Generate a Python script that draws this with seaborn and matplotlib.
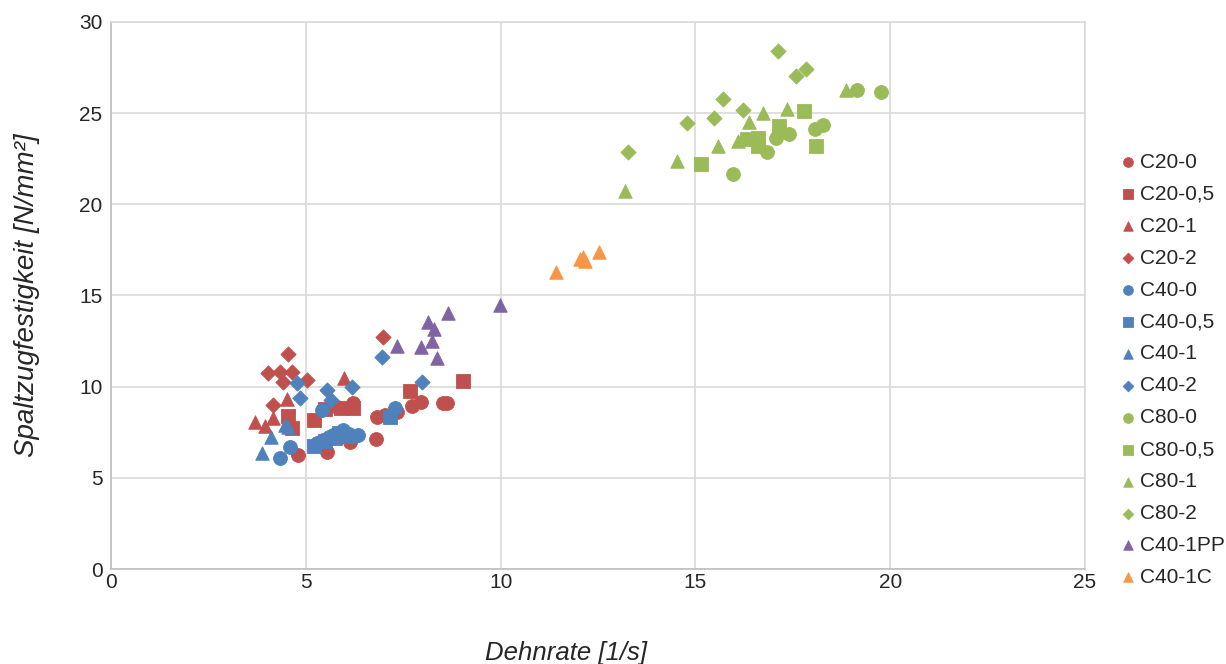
import numpy as np
import pandas as pd

import matplotlib
matplotlib.use("Agg")
import matplotlib.pyplot as plt
import seaborn as sns

# series: (strain rate [1/s], splitting tensile strength [N/mm²])
C20_0_x = [4.81, 5.54, 6.13, 6.80, 5.79, 6.22, 6.82, 7.03, 7.33, 7.72, 7.96, 8.53, 8.62]
C20_0_y = [6.25, 6.44, 6.98, 7.11, 8.90, 9.10, 8.32, 8.45, 8.63, 8.94, 9.18, 9.09, 9.10]
C20_05_x = [4.55, 4.64, 5.22, 5.49, 5.90, 6.22, 7.67, 9.04]
C20_05_y = [8.40, 7.72, 8.17, 8.80, 8.85, 8.85, 9.78, 10.33]
C20_1_x = [3.70, 3.95, 4.17, 4.51, 5.98]
C20_1_y = [8.08, 7.85, 8.30, 9.30, 10.45]
C20_2_x = [4.55, 4.04, 4.34, 4.64, 4.41, 5.02, 4.17, 6.97]
C20_2_y = [11.77, 10.73, 10.80, 10.79, 10.25, 10.38, 9.00, 12.74]
C40_0_x = [4.34, 4.59, 5.41, 5.30, 5.45, 5.70, 5.95, 6.10, 6.35, 5.60, 6.20, 7.29]
C40_0_y = [6.07, 6.71, 8.72, 6.90, 7.10, 7.35, 7.60, 7.40, 7.35, 7.25, 7.30, 8.81]
C40_05_x = [5.20, 5.50, 5.75, 5.85, 6.05, 7.16]
C40_05_y = [6.75, 7.00, 7.20, 7.45, 7.30, 8.36]
C40_1_x = [3.87, 4.10, 4.47, 4.55]
C40_1_y = [6.35, 7.26, 7.90, 7.80]
C40_2_x = [4.78, 4.85, 5.54, 5.66, 6.19, 6.95, 7.99]
C40_2_y = [10.19, 9.38, 9.82, 9.27, 10.00, 11.65, 10.24]
C80_0_x = [15.97, 16.83, 17.06, 17.41, 18.07, 18.27, 19.16, 19.76]
C80_0_y = [21.65, 22.89, 23.62, 23.84, 24.12, 24.36, 26.24, 26.15]
C80_05_x = [15.14, 16.32, 16.61, 16.61, 17.15, 17.80, 18.10]
C80_05_y = [22.20, 23.57, 23.62, 23.17, 24.27, 25.14, 23.17]
C80_1_x = [13.19, 14.54, 15.59, 16.10, 16.38, 16.73, 17.34, 18.87]
C80_1_y = [20.73, 22.40, 23.17, 23.48, 24.49, 25.00, 25.22, 26.24]
C80_2_x = [13.26, 14.78, 15.49, 15.70, 16.23, 17.11, 17.58, 17.84]
C80_2_y = [22.89, 24.45, 24.71, 25.76, 25.18, 28.41, 27.06, 27.43]
C40_1PP_x = [7.33, 7.95, 8.15, 8.29, 8.23, 8.38, 8.66, 9.98]
C40_1PP_y = [12.23, 12.20, 13.57, 13.15, 12.51, 11.59, 14.06, 14.48]
C40_1C_x = [11.42, 12.04, 12.12, 12.17, 12.53]
C40_1C_y = [16.31, 16.99, 17.13, 16.91, 17.41]

series = [
    ("C20-0", C20_0_x, C20_0_y),
    ("C20-0,5", C20_05_x, C20_05_y),
    ("C20-1", C20_1_x, C20_1_y),
    ("C20-2", C20_2_x, C20_2_y),
    ("C40-0", C40_0_x, C40_0_y),
    ("C40-0,5", C40_05_x, C40_05_y),
    ("C40-1", C40_1_x, C40_1_y),
    ("C40-2", C40_2_x, C40_2_y),
    ("C80-0", C80_0_x, C80_0_y),
    ("C80-0,5", C80_05_x, C80_05_y),
    ("C80-1", C80_1_x, C80_1_y),
    ("C80-2", C80_2_x, C80_2_y),
    ("C40-1PP", C40_1PP_x, C40_1PP_y),
    ("C40-1C", C40_1C_x, C40_1C_y),
]

RED, BLUE, GREEN = "#C0504D", "#4F81BD", "#9BBB59"
PURPLE, ORANGE = "#8064A2", "#F79646"
colors = [RED] * 4 + [BLUE] * 4 + [GREEN] * 4 + [PURPLE, ORANGE]
shapes = ["o", "s", "^", "D"] * 3 + ["^", "^"]
names = [s[0] for s in series]

rows = []
for name, xs, ys in series:
    for x, y in zip(xs, ys):
        rows.append({"Serie": name, "x": x, "y": y})
df = pd.DataFrame(rows)

sns.set_style("white")
plt.rcParams['font.family'] = ['Liberation Sans', 'DejaVu Sans']

fig = plt.figure(figsize=(12.26, 6.64), dpi=100)
ax = fig.add_subplot(111)
fig.subplots_adjust(left=0.0905, right=0.885, top=0.967, bottom=0.143)

sizes = {"o": 100, "s": 90, "^": 95, "D": 60}
for name, c, m in zip(names, colors, shapes):
    sub = df[df["Serie"] == name]
    sns.scatterplot(data=sub, x="x", y="y", color=c, marker=m, s=sizes[m],
                    edgecolor=c, linewidth=0.6, ax=ax, label=name, zorder=3)

ax.set_xlim(0, 25)
ax.set_ylim(0, 30)
ax.set_xticks(range(0, 26, 5))
ax.set_yticks(range(0, 31, 5))
ax.grid(True, color="#D9D9D9", linewidth=1.2)
ax.set_axisbelow(True)
for sp in ax.spines.values():
    sp.set_color("#D9D9D9")
    sp.set_linewidth(1.2)
ax.spines["left"].set_color("#BFBFBF")
ax.spines["bottom"].set_color("#BFBFBF")
ax.tick_params(axis="both", labelsize=15, length=0)
ax.tick_params(axis="x", pad=3)
ax.tick_params(axis="y", pad=6)
for t in ax.get_xticklabels() + ax.get_yticklabels():
    t.set_color("#262626")

# the x title sits a little left of the plot centre in the original
ax.set_xlabel("Dehnrate [1/s]", fontsize=18.5, style="italic", color="#262626",
              labelpad=35, x=0.467)
ax.set_ylabel("Spaltzugfestigkeit [N/mm²]", fontsize=20, style="italic", color="#262626", labelpad=28)

handles, labels = ax.get_legend_handles_labels()
leg = ax.legend(handles, labels, loc="center left", bbox_to_anchor=(1.023, 0.364),
                frameon=False, fontsize=15, labelspacing=0.62, handletextpad=0.05,
                handlelength=1.0, markerscale=0.7, borderpad=0)

fig.savefig("out.png", dpi=100)
